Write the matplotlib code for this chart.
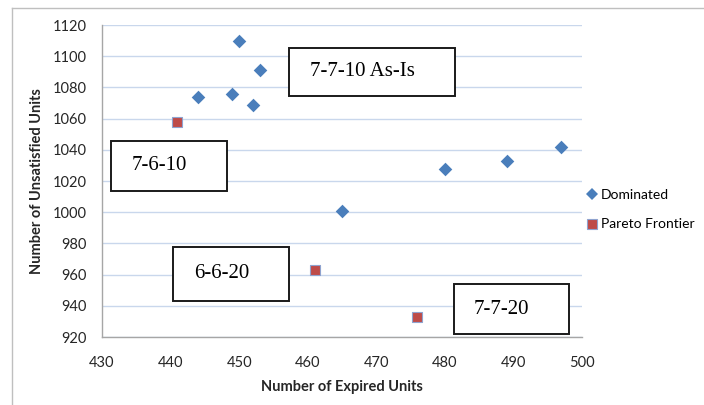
import matplotlib
matplotlib.use('Agg')
import matplotlib.pyplot as plt
from matplotlib.patches import Rectangle
from matplotlib.lines import Line2D

# data
dominated_x = [444, 449, 450, 452, 453, 465, 480, 489, 497]
dominated_y = [1074, 1076, 1110, 1069, 1091, 1001, 1028, 1033, 1042]
pareto_x = [441, 461, 476]
pareto_y = [1058, 963, 933]

x_ticks = [430, 440, 450, 460, 470, 480, 490, 500]
y_ticks = [920, 940, 960, 980, 1000, 1020, 1040, 1060, 1080, 1100, 1120]

# (label, box x0, y0, x1, y1 in pixels from top-left, text start x)
box_labels = [
    ('7-7-10 As-Is', 289, 48, 455, 96, 310),
    ('7-6-10', 111, 141, 227, 191, 132),
    ('6-6-20', 173, 247, 289, 301, 194),
    ('7-7-20', 454, 284, 569, 334, 474),
]

W, H = 704, 405
BLUE = '#4a7ebb'
RED = '#be4b48'
GRID = '#c9d7ec'
AXIS = '#a6a6a6'

plt.rcParams['font.family'] = ['Lato', 'DejaVu Sans']

fig = plt.figure(figsize=(W / 100, H / 100), dpi=100)

# chart area border (left and top edges visible)
fig.add_artist(Line2D([12 / W, 12 / W], [0, 1 - 8 / H], color='#bfbfbf', lw=1.0))
fig.add_artist(Line2D([12 / W, 1], [1 - 8 / H, 1 - 8 / H], color='#bfbfbf', lw=1.0))

ax = fig.add_axes([102 / W, 1 - 337 / H, (582 - 102) / W, (337 - 25) / H])

ax.scatter(dominated_x, dominated_y, marker='D', s=48, color=BLUE,
           linewidths=0, zorder=3, label='Dominated')
ax.scatter(pareto_x, pareto_y, marker='s', s=62, color=RED,
           edgecolors='#8fa3cf', linewidths=0.8, zorder=3, label='Pareto Frontier')

ax.set_xlim(430, 500)
ax.set_ylim(920, 1120)
ax.set_xticks(x_ticks)
ax.set_yticks(y_ticks)
ax.tick_params(length=0, labelsize=10.5, colors='#262626')
ax.tick_params(axis='x', pad=14)
ax.tick_params(axis='y', pad=11)
ax.grid(axis='y', color=GRID, lw=1.0)
ax.set_axisbelow(True)
for side in ['top', 'right']:
    ax.spines[side].set_visible(False)
for side in ['left', 'bottom']:
    ax.spines[side].set_color(AXIS)
    ax.spines[side].set_linewidth(1.0)

ax.set_xlabel('Number of Expired Units', fontsize=10.5, fontweight='bold',
              color='#262626', labelpad=7)
ax.set_ylabel('Number of Unsatisfied Units', fontsize=10.5, fontweight='bold',
              color='#262626', labelpad=6)

# text boxes
for label, x0, y0, x1, y1, tx in box_labels:
    fig.add_artist(Rectangle((x0 / W, 1 - y1 / H), (x1 - x0) / W, (y1 - y0) / H,
                             transform=fig.transFigure, facecolor='white',
                             edgecolor='#1a1a1a', lw=1.4, zorder=5))
    fig.text(tx / W, 1 - (y0 + y1) / 2 / H, label, family='Liberation Serif',
             fontsize=15, ha='left', va='center', zorder=6)

# legend
handles = [
    Line2D([], [], marker='D', color=BLUE, ls='none', markersize=6.5, markeredgewidth=0),
    Line2D([], [], marker='s', color=RED, ls='none', markersize=7.5,
           markeredgecolor='#8fa3cf', markeredgewidth=0.8),
]
fig.legend(handles, ['Dominated', 'Pareto Frontier'], loc='upper left',
           bbox_to_anchor=(587 / W, 1 - 189 / H), frameon=False, fontsize=10,
           handlelength=0.7, handletextpad=0.3, labelspacing=1.25,
           borderaxespad=0, borderpad=0)

fig.savefig('out.png', dpi=100)
